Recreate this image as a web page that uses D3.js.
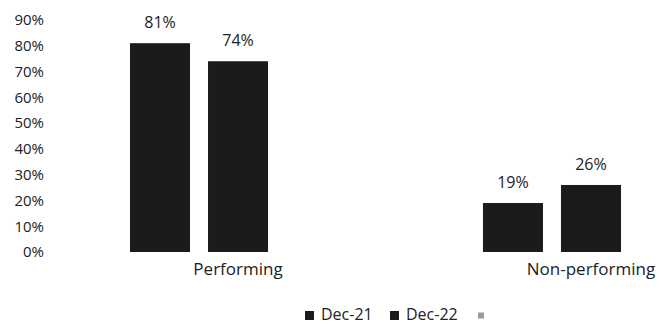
<!DOCTYPE html>
<html>
<head>
<meta charset="utf-8">
<script src="https://cdn.jsdelivr.net/npm/d3@7/dist/d3.min.js"></script>
<style>
  html, body { margin: 0; padding: 0; background: #fff; }
  svg text { font-family: "Open Sans", "Noto Sans", sans-serif; fill: #222; }
</style>
</head>
<body>
<svg id="chart" width="659" height="325"></svg>
<script>
// Loan book split by status
const categories = ["Performing", "Non-performing"];
const seriesNames = ["Dec-21", "Dec-22", ""];
const dec21 = [0.81, 0.19];
const dec22 = [0.74, 0.26];
const blank = [null, null];
const yTicks = [0, 0.1, 0.2, 0.3, 0.4, 0.5, 0.6, 0.7, 0.8, 0.9];

const seriesValues = [dec21, dec22, blank];
const seriesColors = ["#1b1b1b", "#1b1b1b", "#9a9a9a"];

const svg = d3.select("#chart");

const y = d3.scaleLinear().domain([0, 0.9]).range([252, 20]);

const x0 = d3.scaleBand()
  .domain(categories)
  .range([61.5, 767.5])
  .paddingInner(0.337)
  .paddingOuter(0.1686);

const x1 = d3.scaleBand()
  .domain(d3.range(seriesNames.length))
  .range([0, x0.bandwidth()])
  .paddingInner(18 / 78)
  .paddingOuter(9 / 78);

// y axis labels only
const yAxis = d3.axisLeft(y)
  .tickValues(yTicks)
  .tickFormat(d3.format(".0%"))
  .tickSize(0)
  .tickPadding(0);
const gy = svg.append("g").attr("transform", "translate(44,0)").call(yAxis);
gy.select(".domain").remove();
gy.selectAll("text").attr("font-size", 15).style("font-family", "'Open Sans', sans-serif").attr("fill", "#222");

// bars
const rows = [];
categories.forEach((c, ci) => {
  seriesValues.forEach((vals, si) => {
    if (vals[ci] != null) rows.push({ cat: c, s: si, v: vals[ci] });
  });
});

const g = svg.append("g");
g.selectAll("rect.bar").data(rows).join("rect")
  .attr("class", "bar")
  .attr("x", d => x0(d.cat) + x1(d.s))
  .attr("y", d => y(d.v))
  .attr("width", x1.bandwidth())
  .attr("height", d => y(0) - y(d.v))
  .attr("fill", d => seriesColors[d.s]);

g.selectAll("text.val").data(rows).join("text")
  .attr("class", "val")
  .attr("x", d => x0(d.cat) + x1(d.s) + x1.bandwidth() / 2)
  .attr("y", d => y(d.v) - 15)
  .attr("text-anchor", "middle")
  .attr("font-size", 16)
  .text(d => d3.format(".0%")(d.v));

// category labels
const xAxis = d3.axisBottom(x0).tickSize(0).tickPadding(0);
const gx = svg.append("g").attr("transform", "translate(0,263)").call(xAxis);
gx.select(".domain").remove();
gx.selectAll("text").attr("font-size", 17).style("font-family", "'Open Sans', sans-serif").attr("fill", "#222");

// legend
const legendItems = [
  { name: seriesNames[0], color: seriesColors[0], x: 305, size: 9 },
  { name: seriesNames[1], color: seriesColors[1], x: 390, size: 9 },
  { name: seriesNames[2], color: seriesColors[2], x: 478, size: 6 }
];
const lg = svg.append("g");
legendItems.forEach(it => {
  lg.append("rect")
    .attr("x", it.x).attr("y", 315.5 - it.size / 2)
    .attr("width", it.size).attr("height", it.size)
    .attr("fill", it.color);
  lg.append("text")
    .attr("x", it.x + 16).attr("y", 320)
    .attr("font-size", 16)
    .text(it.name);
});
</script>
</body>
</html>
